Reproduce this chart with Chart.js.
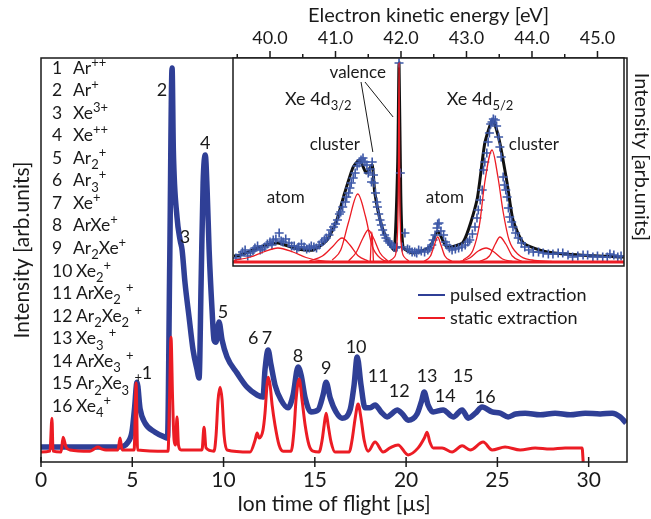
<!DOCTYPE html>
<html>
<head>
<meta charset="utf-8">
<script src="https://cdn.jsdelivr.net/npm/chart.js@4.4.1/dist/chart.umd.min.js"></script>
<style>
  html, body { margin: 0; padding: 0; background: #fff; }
  #wrap { position: relative; width: 651px; height: 519px; }
  #wrap canvas { position: absolute; left: 0; top: 0; }
</style>
</head>
<body>
<div id="wrap">
  <canvas id="mainChart" width="651" height="519"></canvas>
  <canvas id="insetChart" width="651" height="519"></canvas>
</div>
<script>
const FONT = 'Lato, "Open Sans", sans-serif';
const BLUE = '#2f3f96';
const RED = '#ec1c24';
const INK = '#1a1a1a';

// ---- main spectrum: ion time of flight [µs] vs intensity (arb. units)
const pulsedT = [0, 2.0, 4.22, 4.77, 4.99, 5.12, 5.26, 5.43, 5.70, 6.25, 6.79, 6.93, 7.05, 7.18, 7.25, 7.45, 7.62, 7.73, 7.89, 8.11, 8.33, 8.55, 8.66, 8.77, 8.88, 9.0, 9.10, 9.21, 9.37, 9.48, 9.59, 9.75, 9.92, 10.19, 10.74, 11.29, 11.84, 12.16, 12.27, 12.44, 12.60, 12.82, 13.15, 13.53, 13.81, 14.08, 14.25, 14.47, 14.79, 15.18, 15.45, 15.62, 15.84, 16.16, 16.49, 16.93, 17.15, 17.32, 17.53, 17.75, 18.03, 18.30, 18.63, 18.96, 19.25, 19.51, 19.8, 20.11, 20.6, 20.85, 20.99, 21.2, 21.48, 22.03, 22.58, 23.07, 23.40, 23.8, 24.16, 24.71, 25.15, 25.59, 26.0, 26.52, 27.34, 28.16, 28.99, 29.81, 30.63, 31.29, 31.73, 32.05];
const pulsedI = [5.8, 5.8, 5.8, 7.0, 9.7, 15.0, 21.5, 15.0, 11.6, 9.4, 8.2, 8.0, 50.0, 97.6, 77.7, 61.5, 55.9, 53.5, 45.5, 37.3, 29.3, 24.5, 22.5, 45.5, 69.7, 76.5, 68.0, 53.5, 39.0, 31.7, 31.2, 36.1, 31.7, 27.6, 23.7, 20.3, 18.4, 17.9, 24.5, 29.3, 25.7, 20.8, 17.2, 15.3, 18.4, 25.2, 23.2, 17.7, 14.3, 14.8, 18.4, 21.5, 17.7, 14.3, 12.8, 14.8, 20.8, 27.6, 20.8, 15.3, 15.3, 16.0, 14.3, 13.1, 14.0, 14.8, 13.8, 12.3, 13.8, 17.0, 19.1, 16.0, 14.3, 14.8, 13.1, 14.8, 12.8, 14.0, 15.5, 14.3, 14.0, 13.1, 13.8, 14.0, 13.6, 14.0, 13.6, 14.0, 13.8, 14.0, 13.1, 11.6];

const staticT = [0, 0.49, 0.60, 0.66, 1.1, 1.21, 1.37, 1.59, 2.68, 2.9, 3.12, 3.35, 3.56, 4.22, 4.33, 4.44, 5.10, 5.21, 5.29, 6.9, 6.96, 7.04, 7.12, 7.21, 7.29, 7.37, 7.45, 7.53, 7.67, 8.82, 8.93, 9.04, 9.48, 9.59, 9.70, 9.81, 9.92, 10.03, 10.19, 11.45, 11.73, 11.84, 11.95, 12.16, 12.27, 12.38, 12.44, 12.55, 12.66, 12.82, 13.04, 13.26, 13.70, 13.86, 13.97, 14.14, 14.30, 14.47, 14.68, 14.90, 15.23, 15.40, 15.51, 15.62, 15.73, 15.89, 16.11, 16.88, 17.04, 17.21, 17.37, 17.53, 17.70, 17.92, 18.30, 18.74, 19.12, 19.56, 20.11, 20.66, 21.0, 21.15, 21.3, 21.48, 21.97, 22.52, 23.07, 23.51, 24.22, 24.71, 25.42, 26.25, 27.07, 27.89, 28.71, 29.64, 29.70];
const staticI = [4.6, 4.8, 12.8, 4.8, 4.6, 8.2, 5.8, 5.1, 4.8, 5.3, 5.8, 5.3, 5.1, 5.1, 8.0, 5.1, 5.1, 21.3, 5.1, 4.8, 4.8, 17.2, 32.4, 17.2, 7.5, 6.3, 13.1, 6.3, 5.1, 5.1, 10.6, 5.6, 4.8, 8.7, 17.2, 20.3, 17.2, 8.7, 5.1, 4.6, 7.5, 9.2, 8.0, 9.9, 14.0, 20.8, 22.7, 20.8, 16.0, 11.1, 6.3, 4.8, 4.8, 9.9, 17.2, 22.3, 17.2, 11.1, 6.3, 4.8, 4.6, 7.5, 11.1, 14.0, 11.1, 7.0, 4.6, 4.6, 7.5, 12.8, 16.2, 12.8, 7.5, 4.8, 7.0, 4.6, 5.6, 6.3, 3.9, 5.6, 8.0, 9.4, 7.0, 5.6, 5.6, 4.6, 6.1, 5.1, 7.0, 5.1, 5.8, 5.1, 5.6, 5.3, 5.6, 5.6, 2.2];

const tofTicks = [0, 5, 10, 15, 20, 25, 30];

// peak numbers and where they sit (data coords)
const peakNames = ['1', '2', '3', '4', '5', '6', '7', '8', '9', '10', '11', '12', '13', '14', '15', '16'];
const peakLabelT = [5.81, 6.63, 7.89, 8.99, 9.97, 11.62, 12.38, 14.08, 15.62, 17.26, 18.47, 19.62, 21.15, 22.14, 23.12, 24.33];
const peakLabelI = [23.7, 92.3, 56.7, 79.4, 38.5, 32.2, 32.2, 27.8, 24.9, 30.0, 23.0, 19.4, 23.0, 18.2, 23.0, 17.9];

// species list: [text, kind] pieces
const species = [
  [['Ar'], ['++', 'sup']],
  [['Ar'], ['+', 'sup']],
  [['Xe'], ['3+', 'sup']],
  [['Xe'], ['++', 'sup']],
  [['Ar'], ['2', 'sub'], ['+', 'sup']],
  [['Ar'], ['3', 'sub'], ['+', 'sup']],
  [['Xe'], ['+', 'sup']],
  [['ArXe'], ['+', 'sup']],
  [['Ar'], ['2', 'sub'], ['Xe'], ['+', 'sup']],
  [['Xe'], ['2', 'sub'], ['+', 'sup']],
  [['ArXe'], ['2', 'sub'], ['', 'gap'], ['+', 'sup']],
  [['Ar'], ['2', 'sub'], ['Xe'], ['2', 'sub'], ['', 'gap'], ['+', 'sup']],
  [['Xe'], ['3', 'sub'], ['', 'gap'], ['+', 'sup']],
  [['ArXe'], ['3', 'sub'], ['', 'gap'], ['+', 'sup']],
  [['Ar'], ['2', 'sub'], ['Xe'], ['3', 'sub'], ['', 'gap'], ['+', 'sup']],
  [['Xe'], ['4', 'sub'], ['+', 'sup']]
];

// ---- inset: photoelectron spectrum, electron kinetic energy [eV]
const eKinE = [39.55, 39.62, 39.7, 39.77, 39.85, 39.92, 40.0, 40.05, 40.14, 40.2, 40.29, 40.37, 40.44, 40.52, 40.6, 40.67, 40.75, 40.83, 40.9, 40.97, 41.03, 41.08, 41.15, 41.2, 41.24, 41.3, 41.36, 41.42, 41.48, 41.5, 41.56, 41.58, 41.61, 41.64, 41.68, 41.72, 41.77, 41.83, 41.89, 41.94, 41.97, 41.99, 42.06, 42.17, 42.27, 42.36, 42.47, 42.52, 42.58, 42.65, 42.7, 42.78, 42.88, 42.98, 43.05, 43.13, 43.18, 43.24, 43.26, 43.31, 43.35, 43.39, 43.44, 43.49, 43.53, 43.56, 43.62, 43.66, 43.71, 43.79, 43.89, 44.02, 44.17, 44.32, 44.47, 44.62, 44.78, 44.93, 45.08, 45.19, 45.31,
  39.48, 39.58, 39.66, 39.74, 39.81, 39.88, 39.96, 40.03, 40.09, 40.17, 40.24, 40.33, 40.41, 40.48, 40.56, 40.63, 40.71, 40.79, 40.86, 40.93, 41.0, 41.06, 41.11, 41.17, 41.22, 41.27, 41.33, 41.39, 41.45, 41.53, 41.55, 41.59, 41.63, 41.66, 41.7, 41.75, 41.8, 41.86, 41.92, 42.02, 42.1, 42.13, 42.21, 42.24, 42.31, 42.41, 42.44, 42.49, 42.55, 42.56, 42.61, 42.68, 42.74, 42.83, 42.93, 43.02, 43.09, 43.16, 43.21, 43.28, 43.33, 43.37, 43.41, 43.46, 43.51, 43.58, 43.6, 43.64, 43.69, 43.75, 43.84, 43.95, 44.1, 44.25, 44.4, 44.55, 44.7, 44.85, 45.0, 45.15, 45.25, 45.36];
const eCounts = [0.7, 1.2, 0.9, 1.4, 1.2, 1.5, 2.0, 2.2, 2.9, 2.0, 1.9, 1.6, 1.5, 1.5, 1.4, 1.5, 1.7, 2.2, 2.7, 3.5, 4.2, 5.0, 6.0, 6.9, 7.9, 8.9, 9.9, 10.4, 9.7, 8.9, 10.0, 8.7, 6.9, 5.5, 4.2, 3.2, 2.4, 1.9, 1.5, 1.5, 19.9, 8.9, 2.9, 1.0, 1.2, 1.0, 1.7, 2.7, 3.9, 2.7, 1.7, 1.2, 1.4, 1.7, 2.2, 3.5, 5.2, 7.2, 9.2, 10.9, 12.9, 14.0, 14.2, 12.5, 10.5, 8.5, 6.5, 4.5, 3.5, 2.4, 1.5, 1.0, 0.9, 0.8, 0.9, 0.5, 0.7, 0.5, 0.5, 0.8, 0.5,
  0.4, 1.0, 0.6, 1.1, 1.6, 1.3, 1.8, 1.7, 2.3, 2.1, 2.3, 1.6, 1.3, 1.8, 1.3, 1.6, 1.4, 2.0, 2.4, 3.2, 3.8, 4.8, 5.5, 6.5, 7.4, 8.4, 9.6, 10.2, 10.0, 9.3, 8.0, 7.9, 6.0, 4.8, 3.7, 2.7, 2.1, 1.7, 1.4, 1.5, 1.3, 1.2, 1.0, 0.9, 1.1, 1.2, 1.4, 2.2, 3.4, 3.8, 3.1, 2.0, 1.4, 1.3, 1.5, 2.0, 2.8, 4.4, 6.2, 10.0, 12.0, 13.8, 14.3, 13.6, 11.5, 7.7, 7.2, 5.4, 4.0, 2.9, 1.9, 1.2, 1.0, 0.8, 0.9, 0.7, 0.6, 0.7, 0.6, 0.5, 0.7, 0.6];

const fitE = [39.45, 39.55, 39.85, 40.12, 40.41, 40.66, 40.87, 41.02, 41.14, 41.27, 41.37, 41.47, 41.56, 41.6, 41.71, 41.83, 41.9, 41.95, 41.97, 41.99, 42.03, 42.18, 42.44, 42.56, 42.7, 42.95, 43.16, 43.28, 43.4, 43.5, 43.62, 43.71, 43.87, 44.23, 44.73, 45.34, 45.4];
const fitI = [0.6, 0.7, 1.5, 1.9, 1.3, 1.2, 2.2, 4.2, 6.9, 9.5, 10.2, 8.9, 9.7, 6.9, 3.5, 1.7, 1.2, 10.0, 19.9, 10.0, 1.5, 0.9, 1.5, 3.1, 1.5, 2.0, 6.2, 11.9, 14.2, 12.2, 7.9, 4.2, 1.9, 1.0, 0.7, 0.5, 0.5];

const compE = [
  [39.45, 39.7, 39.9, 40.12, 40.35, 40.55, 40.8, 41.0],
  [40.6, 40.8, 40.95, 41.1, 41.22, 41.35, 41.5],
  [40.95, 41.08, 41.2, 41.34, 41.46, 41.56, 41.7, 41.85],
  [41.2, 41.32, 41.42, 41.5, 41.58, 41.68, 41.8],
  [41.53, 41.555, 41.58],
  [41.82, 41.9, 41.94, 41.96, 41.97, 41.98, 42.0, 42.05, 42.12],
  [42.35, 42.45, 42.51, 42.56, 42.61, 42.67, 42.78],
  [42.9, 43.05, 43.18, 43.3, 43.42, 43.55, 43.7],
  [42.95, 43.1, 43.2, 43.28, 43.39, 43.48, 43.56, 43.65, 43.8, 44.0, 44.3],
  [43.2, 43.35, 43.44, 43.51, 43.6, 43.7, 43.85]
];
const compI = [
  [0.15, 0.5, 1.0, 1.4, 1.0, 0.45, 0.1, 0.0],
  [0.1, 0.6, 1.5, 2.4, 1.7, 0.6, 0.1],
  [0.2, 1.2, 4.0, 6.8, 4.5, 1.6, 0.3, 0.0],
  [0.1, 1.0, 2.4, 3.2, 2.4, 0.9, 0.1],
  [0.0, 3.0, 0.0],
  [0.1, 0.5, 2.0, 8.0, 19.9, 8.0, 2.0, 0.5, 0.1],
  [0.05, 0.6, 1.7, 2.5, 1.7, 0.6, 0.05],
  [0.05, 0.4, 1.1, 1.4, 1.0, 0.3, 0.05],
  [0.2, 1.2, 3.8, 8.0, 11.2, 8.5, 5.0, 2.2, 0.7, 0.2, 0.05],
  [0.05, 0.6, 1.8, 2.5, 1.8, 0.6, 0.05]
];
const baseE = [39.435, 45.405];
const baseI = [0, 0];

const energyTicks = [40, 41, 42, 43, 44, 45];
const energyMinor = [39.5, 40.5, 41.5, 42.5, 43.5, 44.5];

const pts = (xs, ys) => xs.map((x, i) => ({ x: x, y: ys[i] }));

function drawRich(ctx, x, y, segs, size) {
  segs.forEach(s => {
    const kind = s[1] || '';
    if (kind === 'gap') { x += size * 0.3; return; }
    let fs = size, dy = 0;
    if (kind === 'sup') { fs = Math.round(size * 0.72); dy = -size * 0.4; }
    if (kind === 'sub') { fs = Math.round(size * 0.72); dy = size * 0.3; }
    ctx.font = fs + 'px ' + FONT;
    ctx.fillText(s[0], x, y + dy);
    x += ctx.measureText(s[0]).width;
  });
  return x;
}

const mainDecor = {
  id: 'mainDecor',
  afterDraw(chart) {
    const { ctx, chartArea: a, scales: { x, y } } = chart;
    ctx.save();
    ctx.strokeStyle = INK;
    ctx.lineWidth = 1.5;
    ctx.strokeRect(a.left, a.top, a.right - a.left, a.bottom - a.top);
    tofTicks.forEach(v => {
      const px = x.getPixelForValue(v);
      ctx.beginPath();
      ctx.moveTo(px, a.bottom - 5);
      ctx.lineTo(px, a.bottom + 5);
      ctx.stroke();
    });

    ctx.fillStyle = INK;
    ctx.textBaseline = 'alphabetic';
    // species list
    species.forEach((segs, i) => {
      const base = 73.5 + 22.57 * i;
      ctx.font = '17.5px ' + FONT;
      ctx.textAlign = 'left';
      ctx.fillText(String(i + 1), 52, base);
      drawRich(ctx, i < 9 ? 73 : 76, base, segs, 17.5);
    });

    // peak numbers
    ctx.font = '18px ' + FONT;
    ctx.textAlign = 'center';
    ctx.textBaseline = 'middle';
    peakNames.forEach((n, i) => {
      ctx.fillText(n, x.getPixelForValue(peakLabelT[i]), y.getPixelForValue(peakLabelI[i]));
    });

    // legend
    ctx.textAlign = 'left';
    [['pulsed extraction', BLUE, 295], ['static extraction', RED, 318]].forEach(([t, c, yy]) => {
      ctx.strokeStyle = c;
      ctx.lineWidth = 2;
      ctx.beginPath();
      ctx.moveTo(418, yy);
      ctx.lineTo(445, yy);
      ctx.stroke();
      ctx.fillText(t, 450, yy);
    });

    // y title
    ctx.save();
    ctx.translate(22, 250);
    ctx.rotate(-Math.PI / 2);
    ctx.textAlign = 'center';
    ctx.font = '21px ' + FONT;
    ctx.fillText('Intensity [arb.units]', 0, 0);
    ctx.restore();
    ctx.restore();
  }
};

new Chart(document.getElementById('mainChart'), {
  type: 'line',
  data: {
    datasets: [
      { label: 'static extraction', data: pts(staticT, staticI), borderColor: RED, borderWidth: 3, pointRadius: 0, cubicInterpolationMode: 'monotone', order: 1 },
      { label: 'pulsed extraction', data: pts(pulsedT, pulsedI), borderColor: BLUE, borderWidth: 5.5, pointRadius: 0, cubicInterpolationMode: 'monotone', order: 2 }
    ]
  },
  options: {
    responsive: false,
    animation: false,
    devicePixelRatio: 1,
    layout: { padding: { left: 0, right: 24, top: 58, bottom: 0 } },
    plugins: { legend: { display: false }, tooltip: { enabled: false } },
    scales: {
      x: {
        type: 'linear', min: 0, max: 32.1,
        afterBuildTicks: s => { s.ticks = tofTicks.map(v => ({ value: v })); },
        ticks: { color: INK, font: { size: 21, family: FONT }, padding: 6, maxRotation: 0 },
        grid: { display: false, drawTicks: false },
        border: { display: false },
        title: { display: true, text: 'Ion time of flight [µs]', color: INK, font: { size: 21, family: FONT }, padding: { top: 0, bottom: 2 } },
        afterFit: s => { s.height = 57; }
      },
      y: {
        min: 2.18, max: 100,
        ticks: { display: false },
        grid: { display: false, drawTicks: false },
        border: { display: false },
        afterFit: s => { s.width = 41; }
      }
    }
  },
  plugins: [mainDecor]
});

const insetDecor = {
  id: 'insetDecor',
  beforeDraw(chart) {
    const { ctx, chartArea: a } = chart;
    ctx.save();
    ctx.fillStyle = '#fff';
    ctx.fillRect(a.left, a.top, a.right - a.left, a.bottom - a.top);
    ctx.restore();
  },
  afterDraw(chart) {
    const { ctx, chartArea: a, scales: { x, y } } = chart;
    ctx.save();
    ctx.strokeStyle = INK;
    ctx.lineWidth = 1.5;
    ctx.strokeRect(a.left, a.top, a.right - a.left, a.bottom - a.top);
    energyTicks.forEach(v => {
      const px = x.getPixelForValue(v);
      ctx.beginPath(); ctx.moveTo(px, a.top); ctx.lineTo(px, a.top - 7); ctx.stroke();
    });
    energyMinor.forEach(v => {
      const px = x.getPixelForValue(v);
      ctx.beginPath(); ctx.moveTo(px, a.top); ctx.lineTo(px, a.top - 4); ctx.stroke();
    });

    const P = (e, v) => [x.getPixelForValue(e), y.getPixelForValue(v)];
    ctx.fillStyle = INK;
    ctx.font = '17px ' + FONT;
    ctx.textAlign = 'center';
    ctx.textBaseline = 'middle';
    [['valence', 41.34, 18.9], ['cluster', 40.99, 11.7], ['cluster', 44.03, 11.7], ['atom', 40.24, 6.4], ['atom', 42.67, 6.4]].forEach(([t, e, v]) => {
      const [px, py] = P(e, v);
      ctx.fillText(t, px, py);
    });
    ctx.textAlign = 'left';
    ctx.textBaseline = 'alphabetic';
    let [px, py] = P(40.23, 15.7);
    drawRich(ctx, px, py, [['Xe 4d'], ['3/2', 'sub']], 18);
    [px, py] = P(42.70, 15.7);
    drawRich(ctx, px, py, [['Xe 4d'], ['5/2', 'sub']], 18);

    ctx.strokeStyle = INK;
    ctx.lineWidth = 1;
    [[41.39, 18.0, 41.57, 11.0], [41.45, 18.0, 41.88, 14.5]].forEach(([e1, v1, e2, v2]) => {
      const p1 = P(e1, v1), p2 = P(e2, v2);
      ctx.beginPath(); ctx.moveTo(p1[0], p1[1]); ctx.lineTo(p2[0], p2[1]); ctx.stroke();
    });

    ctx.save();
    ctx.translate(641, 157);
    ctx.rotate(Math.PI / 2);
    ctx.textAlign = 'center';
    ctx.textBaseline = 'middle';
    ctx.font = '20px ' + FONT;
    ctx.fillText('Intensity [arb.units]', 0, 0);
    ctx.restore();
    ctx.restore();
  }
};

const insetSets = [
  { data: pts(fitE, fitI), borderColor: '#111', borderWidth: 3, pointRadius: 0, tension: 0.2, order: 3 },
  { data: pts(eKinE, eCounts), showLine: false, pointStyle: 'cross', pointRadius: 4.5, borderWidth: 1.6, borderColor: '#3d58a8', order: 2 },
  { data: pts(baseE, baseI), borderColor: RED, borderWidth: 3, pointRadius: 0, order: 1 }
];
compE.forEach((es, k) => {
  insetSets.push({ data: pts(es, compI[k]), borderColor: RED, borderWidth: 1.3, pointRadius: 0, cubicInterpolationMode: 'monotone', order: 1 });
});

new Chart(document.getElementById('insetChart'), {
  type: 'line',
  data: { datasets: insetSets },
  options: {
    responsive: false,
    animation: false,
    devicePixelRatio: 1,
    layout: { padding: { left: 233, right: 27, top: 0, bottom: 253 } },
    plugins: { legend: { display: false }, tooltip: { enabled: false } },
    scales: {
      x: {
        type: 'linear', position: 'top', min: 39.435, max: 45.405,
        afterBuildTicks: s => { s.ticks = energyTicks.map(v => ({ value: v })); },
        ticks: { color: INK, font: { size: 18, family: FONT }, padding: 9, maxRotation: 0, callback: v => v.toFixed(1) },
        grid: { display: false, drawTicks: false },
        border: { display: false },
        title: { display: true, text: 'Electron kinetic energy [eV]', color: INK, font: { size: 20, family: FONT }, padding: { top: 4, bottom: 0 } },
        afterFit: s => { s.height = 58; }
      },
      y: { min: -0.4, max: 20.4, display: false }
    }
  },
  plugins: [insetDecor]
});
</script>
</body>
</html>
